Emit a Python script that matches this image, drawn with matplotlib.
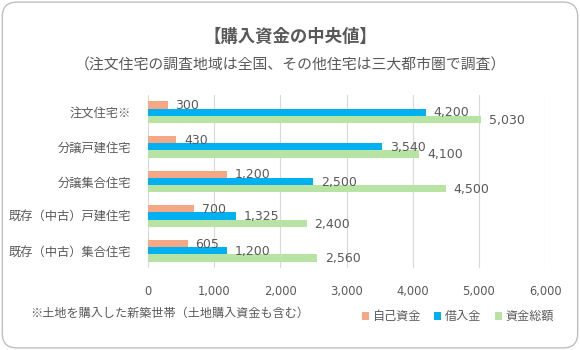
import matplotlib
matplotlib.use("Agg")
import matplotlib.pyplot as plt
from matplotlib.patches import FancyBboxPatch, Patch
import numpy as np

categories = ["注文住宅※", "分譲戸建住宅", "分譲集合住宅", "既存（中古）戸建住宅", "既存（中古）集合住宅"]
own_funds = [300, 430, 1200, 700, 605]
loans = [4200, 3540, 2500, 1325, 1200]
totals = [5030, 4100, 4500, 2400, 2560]
series_names = ["自己資金", "借入金", "資金総額"]
xticks = [0, 1000, 2000, 3000, 4000, 5000, 6000]

colors = ["#F4A886", "#00B0F0", "#B8E4A3"]
gray = "#595959"
plt.rcParams['font.family'] = ['Noto Sans CJK JP', 'DejaVu Sans']

fig = plt.figure(figsize=(5.8, 3.5), dpi=100)
border = FancyBboxPatch((0.004, 0.006), 0.992, 0.988, boxstyle="round,pad=0,rounding_size=0.025",
                        transform=fig.transFigure, facecolor="none", edgecolor="#BFBFBF", linewidth=1.0,
                        mutation_aspect=580/350, zorder=-1)
fig.patches.append(border)

ax = fig.add_axes([0.255, 0.234, 0.685, 0.495])
ax.set_facecolor("none")
y = np.arange(len(categories))
h = 0.21
data = [own_funds, loans, totals]
offsets = [-h, 0, h]
for vals, off, c, name in zip(data, offsets, colors, series_names):
    bars = ax.barh(y + off, vals, height=h, color=c, label=name, zorder=3)
    for b, v in zip(bars, vals):
        ax.annotate(f"{v:,}", (b.get_width(), b.get_y() + b.get_height() / 2),
                    xytext=(5.5, -0.5), textcoords="offset points", va="center", ha="left",
                    fontsize=9, color=gray, family="DejaVu Sans", zorder=4)

ax.set_xlim(0, 6000)
ax.set_ylim(4.5, -0.5)
ax.set_xticks(xticks)
ax.set_xticklabels([f"{t:,}" for t in xticks], family="DejaVu Sans")
ax.set_yticks(y)
ax.set_yticklabels(categories)
ax.tick_params(axis="x", length=0, labelsize=8.3, labelcolor=gray, pad=12)
ax.tick_params(axis="y", length=0, labelsize=8.8, labelcolor=gray, pad=12)
ax.grid(axis="x", color="#D9D9D9", linewidth=0.8, zorder=0)
for s in ax.spines.values():
    s.set_visible(False)

fig.text(0.5, 0.893, "【購入資金の中央値】", ha="center", va="center", fontsize=12.5, fontweight="bold", color=gray)
fig.text(0.5, 0.814, "（注文住宅の調査地域は全国、その他住宅は三大都市圏で調査）", ha="center", va="center",
         fontsize=10.7, color=gray)
fig.text(0.053, 0.105, "※土地を購入した新築世帯（土地購入資金も含む）", ha="left", va="center", fontsize=8.7, color=gray)

handles = [Patch(facecolor=c, edgecolor="none", label=n) for c, n in zip(colors, series_names)]
leg = fig.legend(handles=handles, loc="center right", bbox_to_anchor=(0.97, 0.095), ncol=3, frameon=False,
                 fontsize=8.7, handlelength=0.6, handleheight=0.6, handletextpad=0.3, columnspacing=1.1,
                 borderpad=0.2)
for t in leg.get_texts():
    t.set_color(gray)

fig.savefig("out.png", dpi=100)
